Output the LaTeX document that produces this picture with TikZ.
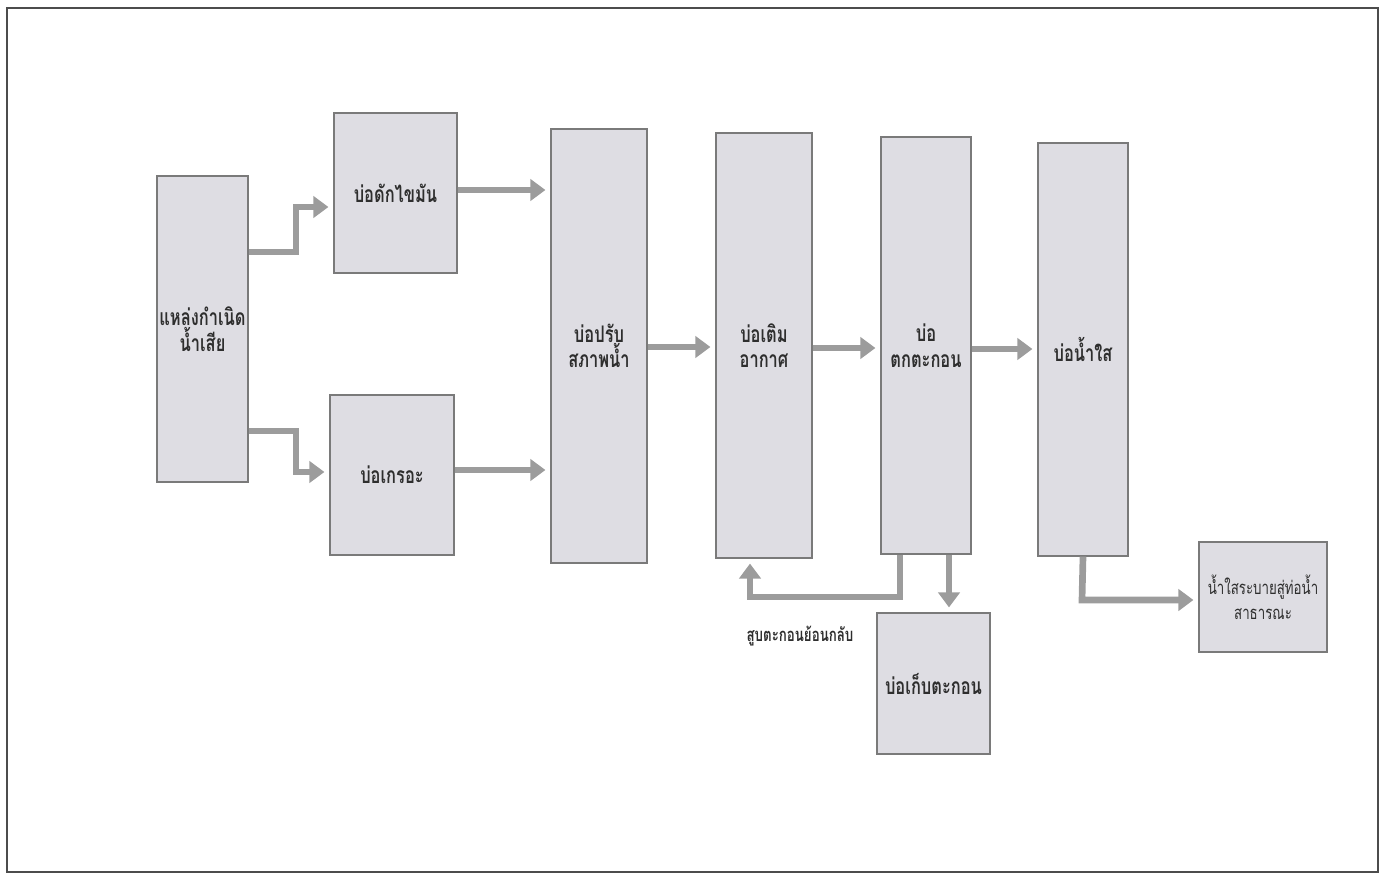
\documentclass[tikz,border=0pt]{standalone}
\usepackage{fontspec}
\newfontfamily\thaifont[Script=Thai, FakeStretch=0.72]{Loma}
\usetikzlibrary{arrows.meta}
\definecolor{pondfill}{HTML}{DEDDE3}
\definecolor{pondline}{HTML}{7A7A7A}
\definecolor{flowgray}{HTML}{9C9C9C}
\definecolor{inkgray}{HTML}{2E2E2E}
\tikzset{
  pond/.style={draw=pondline, fill=pondfill, line width=0.7pt, inner sep=0pt,
    align=center, text=inkgray, font=\thaifont\bfseries\fontsize{13}{14.5}\selectfont},
  flow/.style={draw=flowgray, line width=3.8pt, line join=miter,
    -{Triangle[length=8.5pt,width=12pt]}, shorten >=0.1cm},
}
\begin{document}
\begin{tikzpicture}[x=0.02cm,y=-0.02cm]
                \useasboundingbox (0,0) rectangle (1382,875);
                \draw[line width=1.2pt, draw=black!70] (7,8) rectangle (1378,872);

                \node[pond, minimum width=1.82cm, minimum height=6.12cm] (src) at (202.5,329) {แหล่งกำเนิด\\น้ำเสีย};
                \node[pond, minimum width=2.46cm, minimum height=3.2cm] (grease) at (395.5,193) {บ่อดักไขมัน};
                \node[pond, minimum width=2.48cm, minimum height=3.2cm] (septic) at (392,475) {บ่อเกรอะ};
                \node[pond, minimum width=1.92cm, minimum height=8.68cm] (equal) at (599,346) {บ่อปรับ\\สภาพน้ำ};
                \node[pond, minimum width=1.92cm, minimum height=8.5cm] (aerate) at (764,345.5) {บ่อเติม\\อากาศ};
                \node[pond, minimum width=1.8cm, minimum height=8.34cm] (settle) at (926,345.5) {บ่อ\\ตกตะกอน};
                \node[pond, minimum width=1.8cm, minimum height=8.26cm] (clear) at (1083,349.5) {บ่อน้ำใส};
                \node[pond, minimum width=2.26cm, minimum height=2.82cm] (sludge) at (933.5,683.5) {บ่อเก็บตะกอน};
                \node[pond, minimum width=2.56cm, minimum height=2.2cm,
                      font=\thaifont\fontsize{10.5}{14}\selectfont] (drain) at (1263,597) {น้ำใสระบายสู่ท่อน้ำ\\สาธารณะ};
                \node[text=inkgray, font=\thaifont\bfseries\fontsize{10.5}{12}\selectfont] (recycle) at (800,636) {สูบตะกอนย้อนกลับ};

                \draw[flow] (src.east |- 0,252) -- (296,252) -- (296,207) -- (grease.west |- 0,207);
                \draw[flow] (src.east |- 0,431) -- (296,431) -- (296,472) -- (septic.west |- 0,472);
                \draw[flow] (grease.east |- 0,190) -- (equal.west |- 0,190);
                \draw[flow] (septic.east |- 0,470) -- (equal.west |- 0,470);
                \draw[flow] (equal.east |- 0,347) -- (aerate.west |- 0,347);
                \draw[flow] (aerate.east |- 0,348) -- (settle.west |- 0,348);
                \draw[flow] (settle.east |- 0,349) -- (clear.west |- 0,349);
                \draw[flow] (settle.south -| 900,0) -- (900,597) -- (750,597) -- (aerate.south -| 750,0);
                \draw[flow] (settle.south -| 949,0) -- (sludge.north -| 949,0);
                \draw[flow] (clear.south) -- (1082,600) -- (drain.west |- 0,600);
            \end{tikzpicture}
\end{document}
